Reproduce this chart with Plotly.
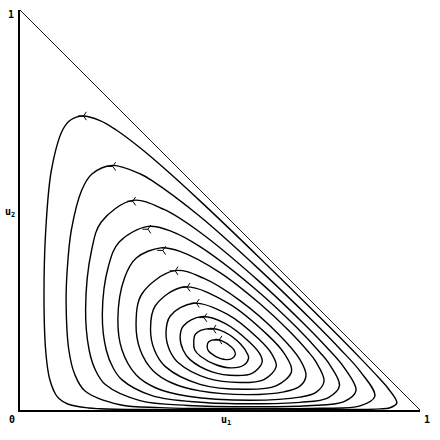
import plotly.graph_objects as go

# Closed orbits (u1, u2), each listed counter-clockwise
orbit1_u1 = [0.5916, 0.85, 0.9, 0.9234, 0.942, 0.92, 0.9, 0.85, 0.7561, 0.6, 0.45, 0.3654, 0.3, 0.2406, 0.2, 0.1568, 0.1264, 0.1065, 0.0786, 0.0644, 0.060, 0.0641, 0.0735, 0.0886, 0.0973, 0.1192, 0.1711, 0.2, 0.3, 0.45, 0.5916]
orbit1_u2 = [0.0004, 0.0012, 0.0027, 0.005, 0.0175, 0.0544, 0.0773, 0.1303, 0.2255, 0.3794, 0.5228, 0.6, 0.6556, 0.7, 0.7235, 0.735, 0.725, 0.7, 0.6, 0.45, 0.2837, 0.15, 0.08, 0.04, 0.029, 0.015, 0.005, 0.0032, 0.0011, 0.0006, 0.0004]

orbit2_u1 = [0.59, 0.75, 0.85, 0.887, 0.85, 0.8, 0.7349, 0.6, 0.45, 0.33, 0.301, 0.23, 0.1798, 0.1545, 0.1284, 0.118, 0.1153, 0.1221, 0.1365, 0.1619, 0.25, 0.35, 0.45, 0.59]
orbit2_u2 = [0.003, 0.0042, 0.0102, 0.0341, 0.0972, 0.1526, 0.2192, 0.3497, 0.4837, 0.5733, 0.59, 0.6114, 0.59, 0.55, 0.45, 0.35, 0.267, 0.15, 0.09, 0.0483, 0.0132, 0.0059, 0.0037, 0.003]

orbit3_u1 = [0.587, 0.72, 0.81, 0.84, 0.81, 0.77, 0.7128, 0.6, 0.45, 0.36, 0.2817, 0.2032, 0.1791, 0.164, 0.1728, 0.1885, 0.2134, 0.3, 0.42, 0.587]
orbit3_u2 = [0.0082, 0.0106, 0.0209, 0.0483, 0.1063, 0.153, 0.2125, 0.3197, 0.4444, 0.5014, 0.524, 0.47, 0.4, 0.2523, 0.15, 0.1, 0.0636, 0.0236, 0.0114, 0.0082]

orbit4_u1 = [0.5827, 0.7, 0.77, 0.7987, 0.77, 0.75, 0.6919, 0.58, 0.45, 0.38, 0.3202, 0.2481, 0.2213, 0.2058, 0.2156, 0.233, 0.2544, 0.33, 0.45, 0.5827]
orbit4_u2 = [0.0155, 0.0191, 0.0306, 0.0608, 0.1194, 0.1439, 0.2063, 0.3095, 0.4084, 0.446, 0.459, 0.42, 0.36, 0.2397, 0.15, 0.105, 0.0759, 0.0359, 0.0192, 0.0155]

orbit5_u1 = [0.5773, 0.7, 0.74, 0.7602, 0.74, 0.72, 0.6705, 0.6, 0.5, 0.4, 0.3519, 0.2907, 0.2612, 0.2447, 0.255, 0.2912, 0.34, 0.42, 0.5773]
orbit5_u2 = [0.0245, 0.0322, 0.044, 0.0724, 0.1201, 0.1464, 0.2, 0.2655, 0.3434, 0.3964, 0.4053, 0.38, 0.33, 0.228, 0.15, 0.0868, 0.055, 0.0344, 0.0245]

orbit6_u1 = [0.5691, 0.66, 0.7, 0.715, 0.7, 0.644, 0.55, 0.46, 0.3857, 0.3046, 0.2901, 0.3006, 0.332, 0.38, 0.45, 0.5691]
orbit6_u2 = [0.0384, 0.0454, 0.0597, 0.086, 0.126, 0.192, 0.2734, 0.3288, 0.3483, 0.29, 0.2142, 0.15, 0.099, 0.0675, 0.0477, 0.0384]

orbit7_u1 = [0.5611, 0.64, 0.679, 0.66, 0.6215, 0.52, 0.4099, 0.3379, 0.3263, 0.3361, 0.3636, 0.45, 0.5611]
orbit7_u2 = [0.0518, 0.0603, 0.0969, 0.1421, 0.1853, 0.2674, 0.3074, 0.26, 0.2033, 0.15, 0.1084, 0.0642, 0.0518]

orbit8_u1 = [0.5511, 0.61, 0.6405, 0.63, 0.5964, 0.52, 0.4338, 0.3756, 0.365, 0.3737, 0.3959, 0.47, 0.5511]
orbit8_u2 = [0.0687, 0.0762, 0.1085, 0.1393, 0.1779, 0.2385, 0.267, 0.235, 0.1916, 0.15, 0.1181, 0.0789, 0.0687]

orbit9_u1 = [0.5407, 0.58, 0.6053, 0.6, 0.5728, 0.51, 0.4536, 0.4083, 0.4003, 0.4078, 0.4244, 0.48, 0.5407]
orbit9_u2 = [0.0863, 0.0915, 0.1191, 0.1396, 0.1708, 0.218, 0.2335, 0.21, 0.181, 0.15, 0.1266, 0.0954, 0.0863]

orbit10_u1 = [0.5295, 0.56, 0.5714, 0.57, 0.5519, 0.51, 0.4714, 0.439, 0.4343, 0.4369, 0.4512, 0.49, 0.5295]
orbit10_u2 = [0.1053, 0.1124, 0.1293, 0.1376, 0.1646, 0.1955, 0.2035, 0.19, 0.1707, 0.15, 0.1345, 0.1132, 0.1053]

orbit11_u1 = [0.5172, 0.53, 0.5383, 0.535, 0.5284, 0.505, 0.4877, 0.4712, 0.468, 0.4698, 0.4768, 0.5, 0.5172]
orbit11_u2 = [0.126, 0.1288, 0.1393, 0.1502, 0.1576, 0.1728, 0.176, 0.17, 0.1606, 0.15, 0.1422, 0.129, 0.126]

# Direction arrows (one per orbit)
arrow_u1 = [0.159, 0.232, 0.282, 0.320, 0.357, 0.388, 0.418, 0.441, 0.460, 0.483, 0.498]
arrow_u2 = [0.735, 0.609, 0.522, 0.452, 0.399, 0.348, 0.307, 0.267, 0.231, 0.202, 0.175]

# Simplex edge u1 + u2 = 1
edge_u1 = [0, 1]
edge_u2 = [1, 0]

orbits = [
    (orbit1_u1, orbit1_u2), (orbit2_u1, orbit2_u2), (orbit3_u1, orbit3_u2),
    (orbit4_u1, orbit4_u2), (orbit5_u1, orbit5_u2), (orbit6_u1, orbit6_u2),
    (orbit7_u1, orbit7_u2), (orbit8_u1, orbit8_u2), (orbit9_u1, orbit9_u2),
    (orbit10_u1, orbit10_u2), (orbit11_u1, orbit11_u2),
]

fig = go.Figure()

fig.add_trace(go.Scatter(x=edge_u1, y=edge_u2, mode="lines",
                         line=dict(color="black", width=0.9), hoverinfo="skip"))

for xs, ys in orbits:
    fig.add_trace(go.Scatter(x=xs, y=ys, mode="lines",
                             line=dict(color="black", width=1.4, shape="spline", smoothing=1),
                             hoverinfo="skip"))

fig.add_trace(go.Scatter(x=arrow_u1, y=arrow_u2, mode="markers",
                         marker=dict(symbol="y-left", size=7, color="black",
                                     line=dict(color="black", width=1)),
                         hoverinfo="skip"))

font = dict(family="DejaVu Sans Mono", size=10, color="black", weight="bold")
ann = [
    dict(x=-0.0225, y=0.99, text="1"),
    dict(x=-0.021, y=-0.0225, text="0"),
    dict(x=1.0175, y=-0.0225, text="1"),
    dict(x=0.515, y=-0.027, text="u<sub>1</sub>"),
    dict(x=-0.026, y=0.495, text="u<sub>2</sub>"),
]
fig.update_layout(
    annotations=[dict(a, xref="paper", yref="paper", showarrow=False, font=font,
                      xanchor="center", yanchor="middle") for a in ann],
    width=440, height=440,
    margin=dict(l=20, r=20, t=10, b=30),
    paper_bgcolor="white", plot_bgcolor="white",
    showlegend=False,
)
axis_style = dict(range=[0, 1], showgrid=False, zeroline=False, showticklabels=False,
                  ticks="", showline=True, linecolor="black", linewidth=1.5)
fig.update_xaxes(**axis_style)
fig.update_yaxes(**axis_style)

fig.write_html("out.html", config={"displayModeBar": False},
               post_script="document.body.style.margin='0';")
